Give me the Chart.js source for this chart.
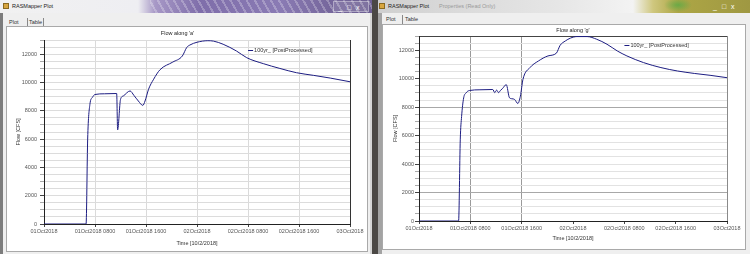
<!DOCTYPE html>
<html>
<head>
<meta charset="utf-8">
<script src="https://cdn.jsdelivr.net/npm/chart.js@4.4.1/dist/chart.umd.min.js"></script>
<style>
    body { margin: 0; width: 750px; height: 254px; overflow: hidden; position: relative;
           background: #4b4845; font-family: "Liberation Sans", Arial, sans-serif; }
    .abs { position: absolute; box-sizing: border-box; }
    .win { top: 0; height: 254px; background: #efefef; }
    .bar { top: 0; height: 13px; font-size: 5.5px; line-height: 13px; color: #222; white-space: nowrap; }
    .ctl { font-size: 7px; line-height: 11px; color: #fff; letter-spacing: 5px; }
    .tab { font-size: 5.5px; color: #333; line-height: 9px; }
    .panel { background: #fff; border: 1px solid #a9a9a9; }
    canvas { position: absolute; }
</style>
</head>
<body>
<!-- left window -->
<div class="abs win" style="left:0;width:372px;border-left:3px solid #7c7c7c;border-right:2px solid #d6d6d6"></div>
<div class="abs bar" style="left:0;width:372px;padding-left:12px;
    background:
      repeating-linear-gradient(60deg, rgba(255,255,255,0) 0 5px, rgba(255,255,255,.25) 5px 7px) 150px 0 / 222px 13px no-repeat,
      linear-gradient(90deg, #f1f1f1 0, #eeeef2 138px, #a798c6 155px, #7f6eaa 200px, #8a7bb4 280px, #76679c 330px, #6d5f92 372px);">RASMapper Plot</div>
<div class="abs" style="left:3px;top:3px;width:6px;height:6px;background:#d8a640;border:1px solid #8a6a20"></div>
<div class="abs ctl" style="left:333px;top:1px;width:36px;height:11px;background:rgba(255,255,255,.12);border:1px solid rgba(255,255,255,.35);padding-left:4px">_□x</div>
<div class="abs tab" style="left:9px;top:18px">Plot</div>
<div class="abs tab" style="left:27px;top:18px;height:9px;border-left:1px solid #888;border-right:1px solid #888;padding:0 1px">Table</div>
<div class="abs panel" style="left:6px;top:26px;width:362px;height:226px"></div>

<!-- right window -->
<div class="abs win" style="left:378px;width:372px;border-left:4px solid #a3a3a3"></div>
<div class="abs bar" style="left:378px;width:372px;padding-left:10px;
    background:
      radial-gradient(ellipse 14px 7px at 300px 5px, rgba(90,170,70,.8), rgba(90,170,70,0)),
      linear-gradient(90deg, #cfcfcf 0, #d9d9d9 70px, #e6e6e6 180px, #f3f3f3 255px, #cfc77e 275px, #ada645 300px, #9f9842 372px);">RASMapper Plot<span style="color:#9a9a9a;margin-left:10px">Properties (Read Only)</span></div>
<div class="abs" style="left:379px;top:3px;width:6px;height:6px;background:#d8a640;border:1px solid #8a6a20"></div>
<div class="abs ctl" style="left:708px;top:1px;width:38px;height:11px;padding-left:5px">_□x</div>
<div class="abs tab" style="left:386px;top:15px">Plot</div>
<div class="abs tab" style="left:402px;top:15px;height:9px;border-left:1px solid #888;padding:0 2px">Table</div>
<div class="abs panel" style="left:382px;top:24px;width:364px;height:226px"></div>

<canvas id="chart-a" width="362" height="222" style="left:5px;top:27px"></canvas>
<canvas id="chart-g" width="365" height="225" style="left:380px;top:24px"></canvas>

<script>
// time axis in hours from 01Oct2018 0000
const TIME_LABELS = [
    "01Oct2018",
    "01Oct2018 0800",
    "01Oct2018 1600",
    "02Oct2018",
    "02Oct2018 0800",
    "02Oct2018 1600",
    "03Oct2018",
];
const SERIES_LABEL = "100yr_ [PostProcessed]";

// Flow along 'a'
const A_HOURS = [0, 6.6, 6.85, 7.2, 7.6, 8.0, 9.5, 11.4, 11.55, 12.0, 12.45, 13.5, 14.1, 14.8, 15.5, 15.85, 16.4, 17.2, 18.2, 20.2, 21.7, 22.4, 22.9, 24.0, 25.7, 26.6, 28.1, 30.2, 31.8, 34.4, 37.0, 39.6, 42.3, 44.9, 48];
const A_FLOW = [0, 0, 6000, 8450, 8950, 9150, 9200, 9220, 6650, 8800, 9050, 9400, 9090, 8690, 8380, 8690, 9520, 10230, 10900, 11440, 11870, 12480, 12650, 12840, 12950, 12920, 12700, 12220, 11750, 11330, 10990, 10690, 10500, 10310, 10050];

// Flow along 'g'
const G_HOURS = [0, 6.17, 6.43, 6.64, 6.96, 7.33, 7.85, 9.5, 11.5, 11.8, 12.1, 12.4, 12.7, 13.0, 13.6, 14.1, 14.5, 14.9, 15.4, 15.8, 16.2, 17.3, 18.6, 20.1, 21.4, 22.0, 22.8, 23.6, 24.6, 26.2, 27.7, 29.3, 30.9, 32.4, 35.0, 37.7, 40.3, 42.9, 45.5, 48];
const G_FLOW = [0, 0, 5700, 7350, 8650, 9000, 9170, 9220, 9240, 9020, 9200, 9020, 9180, 9300, 9580, 8660, 8590, 8540, 8260, 8770, 9950, 10780, 11240, 11600, 11790, 12350, 12650, 12850, 12960, 12960, 12770, 12420, 11950, 11600, 11130, 10780, 10540, 10370, 10230, 10070];

const FONT = "Liberation Sans, Arial, sans-serif";
const LINE_COLOR = "#1d1d82";

// legend drawn inside the plot area, like the RAS Mapper plot
const innerLegend = {
    id: "innerLegend",
    afterDatasetsDraw(chart, args, opts) {
        const { ctx, chartArea } = chart;
        const ds = chart.data.datasets[0];
        const x = chartArea.left + chartArea.width * opts.x;
        const y = chartArea.top + opts.y;
        ctx.save();
        ctx.strokeStyle = ds.borderColor;
        ctx.lineWidth = 1;
        ctx.beginPath();
        ctx.moveTo(x, y + 0.5);
        ctx.lineTo(x + 5, y + 0.5);
        ctx.stroke();
        ctx.font = "5.5px " + FONT;
        ctx.fillStyle = "#333";
        ctx.textBaseline = "middle";
        ctx.fillText(ds.label, x + 6, y + 0.5);
        ctx.restore();
    },
};

function makeChart(id, hours, flow, cfg) {
    const ctx = document.getElementById(id)?.getContext("2d");
    if (!ctx) return;
    const tickFont = { family: FONT, size: 5.5 };
    return new Chart(ctx, {
        type: "line",
        data: {
            datasets: [
                {
                    label: SERIES_LABEL,
                    data: hours.map((h, i) => ({ x: h, y: flow[i] })),
                    borderColor: LINE_COLOR,
                    borderWidth: 1,
                    pointRadius: 0,
                    cubicInterpolationMode: "monotone",
                },
            ],
        },
        plugins: [innerLegend],
        options: {
            responsive: false,
            animation: false,
            layout: { padding: { right: cfg.padRight } },
            plugins: {
                legend: { display: false },
                tooltip: { enabled: false },
                title: {
                    display: true,
                    text: cfg.title,
                    fullSize: cfg.titleFull,
                    color: "#222",
                    font: { family: FONT, size: 5.5, weight: "normal" },
                    padding: cfg.titlePad,
                },
                innerLegend: { x: 0.667, y: cfg.legendY },
            },
            scales: {
                x: {
                    type: "linear",
                    min: 0,
                    max: 48,
                    afterFit: (s) => (s.height = cfg.xHeight),
                    ticks: {
                        stepSize: 8,
                        autoSkip: false,
                        maxRotation: 0,
                        padding: 1.5,
                        color: "#555",
                        font: tickFont,
                        callback: (v) => TIME_LABELS[Math.round(v / 8)],
                    },
                    grid: {
                        color: cfg.xGrid,
                        tickLength: 3,
                        tickColor: "#444",
                    },
                    border: { color: "#222" },
                    title: {
                        display: true,
                        text: "Time [10/2/2018]",
                        color: "#333",
                        font: tickFont,
                        padding: { top: 0, bottom: cfg.xTitlePad },
                    },
                },
                y: {
                    min: 0,
                    max: 13000,
                    afterFit: (s) => (s.width = 39),
                    ticks: {
                        stepSize: 500,
                        maxTicksLimit: 100,
                        autoSkip: false,
                        padding: cfg.yTickPad,
                        color: "#555",
                        font: tickFont,
                        callback: (v) => (v % 2000 === 0 ? v : ""),
                    },
                    grid: {
                        color: cfg.yGrid,
                        tickLength: 4,
                        tickColor: (c) => (c.tick && c.tick.value % 2000 === 0 ? "#444" : "#aaa"),
                    },
                    border: { color: "#222" },
                    title: {
                        display: true,
                        text: "Flow [CFS]",
                        color: "#333",
                        font: tickFont,
                        padding: { top: cfg.yTitlePad, bottom: 0 },
                    },
                },
            },
        },
    });
}

document.addEventListener("DOMContentLoaded", () => {
    makeChart("chart-a", A_HOURS, A_FLOW, {
        title: "Flow along 'a'",
        titleFull: true,
        titlePad: { top: 3, bottom: 3.4 },
        padRight: 17,
        xHeight: 25,
        xTitlePad: 2.5,
        yTickPad: 3,
        yTitlePad: 10,
        legendY: 10,
        xGrid: (c) => (c.tick && c.tick.value === 48 ? "#333" : "#dadada"),
        yGrid: () => "#dcdcdc",
    });
    makeChart("chart-g", G_HOURS, G_FLOW, {
        title: "Flow along 'g'",
        titleFull: false,
        titlePad: { top: 3.5, bottom: 1.9 },
        padRight: 18,
        xHeight: 28,
        xTitlePad: 7.5,
        yTickPad: 1,
        yTitlePad: 12,
        legendY: 9,
        xGrid: (c) => {
            const v = c.tick && c.tick.value;
            if (v === 8 || v === 16) return "#9a9a9a";
            if (v === 48) return "#8a8a8a";
            return "rgba(0,0,0,0)";
        },
        yGrid: (c) => {
            const v = c.tick && c.tick.value;
            if (v === 13000) return "#444";
            if (v === 8000 || v === 2000) return "#a8a8a8";
            return "#e2e2e2";
        },
    });
});
</script>
</body>
</html>
